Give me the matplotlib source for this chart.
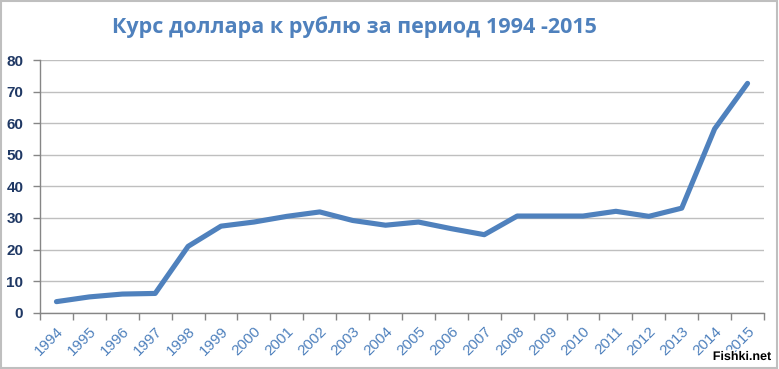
import numpy as np
import matplotlib.pyplot as plt
import matplotlib.patheffects as pe
from matplotlib.patches import Rectangle

# Data
years = ['1994', '1995', '1996', '1997', '1998', '1999', '2000', '2001', '2002', '2003', '2004',
         '2005', '2006', '2007', '2008', '2009', '2010', '2011', '2012', '2013', '2014', '2015']
rate = [3.5, 5.0, 5.9, 6.1, 21.0, 27.4, 28.7, 30.5, 31.9, 29.2, 27.7,
        28.7, 26.6, 24.7, 30.6, 30.6, 30.6, 32.1, 30.5, 33.1, 58.2, 72.6]
y_ticks = [0, 10, 20, 30, 40, 50, 60, 70, 80]

blue = '#4F81BD'
navy = '#1F3864'

fig = plt.figure(figsize=(7.79, 3.69), dpi=100)
ax = fig.add_axes([40 / 779, 56.3 / 369, 724 / 779, 252.7 / 369])

x = np.arange(len(years))
ax.plot(x, rate, color=blue, linewidth=3.7, solid_capstyle='round', solid_joinstyle='round', zorder=3)

ax.set_xlim(-0.5, len(years) - 0.5)
ax.set_ylim(0, 80)
ax.set_yticks(y_ticks)
ax.set_yticklabels([str(v) for v in y_ticks], fontsize=11, fontweight='bold', color=navy,
                   family='Liberation Sans')
ax.set_xticks(x)
ax.set_xticklabels(years, rotation=45, ha='right', va='top', rotation_mode='anchor',
                   fontsize=11, color=blue, family='Liberation Sans')
ax.set_xticks(np.arange(-0.5, len(years)), minor=True)
ax.tick_params(axis='x', which='major', length=0, pad=8)
ax.tick_params(axis='x', which='minor', length=5, color='#868686', width=1)
ax.tick_params(axis='y', length=5, color='#868686', width=1, pad=7)

ax.grid(axis='y', color='#BFBFBF', linewidth=1)
ax.set_axisbelow(True)
for s in ['top', 'right']:
    ax.spines[s].set_visible(False)
for s in ['left', 'bottom']:
    ax.spines[s].set_color('#868686')
    ax.spines[s].set_linewidth(1)

fig.text(354 / 779, 1 - 27 / 369, 'Курс доллара к рублю за период 1994 -2015', ha='center', va='center',
         fontsize=15.5, fontweight='bold', color=blue, family='Open Sans')

fig.text(742 / 779, 1 - 357 / 369, 'Fishki.net', ha='center', va='center', fontsize=9,
         fontweight='bold', color='black', family='Liberation Sans',
         path_effects=[pe.withStroke(linewidth=2, foreground='white')])

fig.patches.append(Rectangle((0.001, 0.002), 0.997, 0.995, transform=fig.transFigure,
                             fill=False, edgecolor='#BFBFBF', linewidth=1.5))

fig.savefig('out.png', dpi=100)
